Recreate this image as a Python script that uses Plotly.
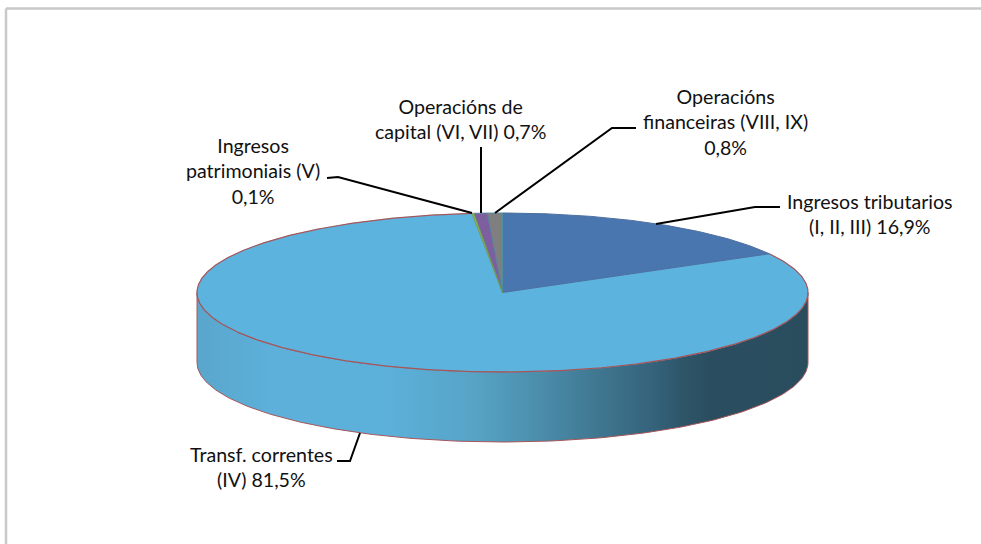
import numpy as np
import plotly.graph_objects as go

# ---- data ----
categories = ["Ingresos tributarios", "Transf. correntes", "Ingresos patrimoniais",
              "Operacións de capital", "Operacións financeiras"]
shares = [16.9, 81.5, 0.1, 0.7, 0.8]
label_texts = ["Ingresos tributarios<br>(I, II, III) 16,9%",
               "Transf. correntes<br>(IV) 81,5%",
               "Ingresos<br>patrimoniais (V)<br>0,1%",
               "Operacións de<br>capital (VI, VII) 0,7%",
               "Operacións<br>financeiras (VIII, IX)<br>0,8%"]
slice_colors = ["#4A76B0", "#5CB4DE", "#9BBB59", "#7D5F9F", "#7F7F7F"]
slice_lines = ["#4A6F9F", None, "#6F9A55", "#5A7FA0", "#4F8F9F"]

# ---- geometry of the drawing ----
W, H = 981, 544
CX, CY, RX, RY, DEPTH = 502.5, 292.5, 305.5, 79.5, 70
label_pos = [(870, 214), (261, 467), (253, 171), (460, 119), (725, 122)]
leader_paths = [
    ([656, 755, 780], [224, 207, 207]),
    ([360, 350, 337], [433, 461, 461]),
    ([327, 338, 472], [178, 177, 213]),
    ([481, 481], [147, 213]),
    ([495, 612, 636], [213, 128, 128]),
]
side_scale = [[0, "#5AA6CC"], [0.12, "#5CB0DA"], [0.30, "#5CB1DB"], [0.45, "#57A4C7"],
              [0.55, "#4C90AE"], [0.66, "#3F768F"], [0.75, "#34627A"], [0.80, "#2D5467"],
              [0.84, "#2A4E60"], [1, "#2A4D5E"]]
rim_color = "#A5565A"


def rim(t_deg, drop=0.0):
    t = np.radians(np.asarray(t_deg, dtype=float))
    return CX + RX * np.sin(t), CY - RY * np.cos(t) + drop


fig = go.Figure()

# side wall, front half of the ellipse
front = np.linspace(90, 270, 181)
x_top, y_top = rim(front)
x_bot, y_bot = rim(front[::-1], DEPTH)
fig.add_trace(go.Scatter(
    x=np.r_[x_top, x_bot, x_top[0]], y=np.r_[y_top, y_bot, y_top[0]],
    mode="lines", line=dict(color=rim_color, width=1), fill="toself",
    fillgradient=dict(type="horizontal", colorscale=side_scale, start=CX - RX, stop=CX + RX),
    hoverinfo="skip", showlegend=False))

# top face slices, clockwise from twelve o'clock; the big slice goes first so the
# edges of the others lie on top of it
edges = np.r_[0, np.cumsum(shares)] / np.sum(shares) * 360
order = np.argsort(shares)[::-1]
for i in order:
    a, b = edges[i], edges[i + 1]
    ang = np.linspace(a, b, max(int(b - a) * 2, 4))
    xs, ys = rim(ang)
    lc = slice_lines[i]
    fig.add_trace(go.Scatter(
        x=np.r_[CX, xs, CX], y=np.r_[CY, ys, CY], mode="lines", name=categories[i],
        line=dict(color=lc if lc else slice_colors[i], width=1 if lc else 0.5),
        fill="toself", fillcolor=slice_colors[i], showlegend=False))
    if lc is None:
        fig.add_trace(go.Scatter(x=xs, y=ys, mode="lines", line=dict(color=rim_color, width=1.2),
                                 hoverinfo="skip", showlegend=False))

# leader lines
for lx, ly in leader_paths:
    fig.add_trace(go.Scatter(x=lx, y=ly, mode="lines", line=dict(color="#000000", width=2),
                             hoverinfo="skip", showlegend=False))

for txt, (px, py) in zip(label_texts, label_pos):
    fig.add_annotation(x=px, y=py, text=txt, showarrow=False, xanchor="center", yanchor="middle",
                       align="center", font=dict(family="Lato", size=19.6, color="#111111"))

# chart frame
frame = dict(color="#C9C9C9", width=2.5)
fig.add_shape(type="line", x0=6, x1=W, y0=8.5, y1=8.5, line=frame)
fig.add_shape(type="line", x0=6, x1=6, y0=8.5, y1=H, line=frame)

fig.update_layout(
    width=W, height=H, margin=dict(l=0, r=0, t=0, b=0),
    paper_bgcolor="white", plot_bgcolor="white", showlegend=False,
    xaxis=dict(range=[0, W], visible=False, fixedrange=True),
    yaxis=dict(range=[H, 0], visible=False, fixedrange=True),
)
fig.write_html("out.html", config=dict(displayModeBar=False),
               post_script="document.body.style.margin='0';document.body.style.overflow='hidden';")
